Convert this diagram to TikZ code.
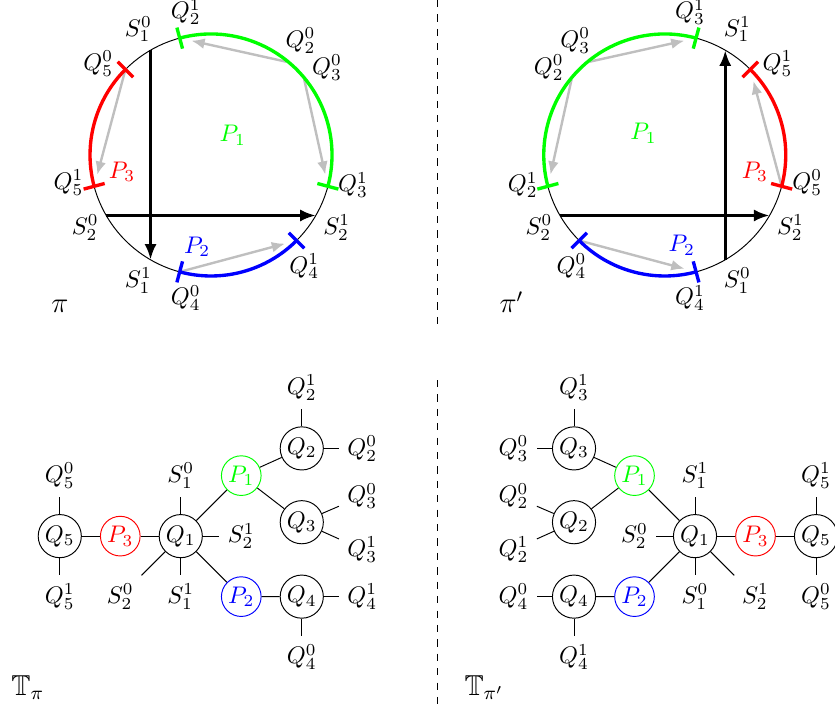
\documentclass[tikz,border=0pt]{standalone}
\usepackage{amsmath,amssymb}
\usepackage{xcolor}
\usepackage{tikz}
\usetikzlibrary{arrows.meta,positioning,calc}

\begin{document}
\begin{tikzpicture}[x=25.2pt, y=25.2pt,
  seg/.style={line width=1.4pt},
  move/.style={line width=1pt, gray!50, -{Latex[length=5.5pt,width=4.5pt]}, shorten >=5pt, shorten <=1pt},
  axis/.style={line width=1.25pt, -{Latex[length=6.5pt,width=5pt]}},
  vtx/.style={circle, draw, inner sep=1pt},
  tag/.style={anchor=base west, font=\large},
]
\useasboundingbox (-3.488,-9.19) rectangle (10.314,2.562);
\draw[dashed] (3.75,2.562) -- (3.75,-2.83);
\draw[dashed] (3.75,-3.72) -- (3.75,-9.19);

\draw (0,0) circle[radius=2];
\coordinate (s10) at (120:2);
\coordinate (s11) at (240:2);
\coordinate (s20) at (210:2);
\coordinate (s21) at (-30:2);
\coordinate (q20) at (50:2);
\coordinate (q21) at (105:2);
\coordinate (q30) at (40:2);
\coordinate (q31) at (-15:2);
\coordinate (q50) at (135:2);
\coordinate (q51) at (195:2);
\coordinate (q40) at (255:2);
\coordinate (q41) at (315:2);
\draw[move] (q20) -- (q21);
\draw[move] (q30) -- (q31);
\draw[move] (q50) -- (q51);
\draw[move] (q40) -- (q41);
\draw[seg, green] (q21) arc[start angle=105, end angle=-15, radius=2];
\draw[seg, red] (q50) arc[start angle=135, end angle=195, radius=2];
\draw[seg, blue] (q40) arc[start angle=255, end angle=315, radius=2];
\foreach \a/\c in {105/green,-15/green,135/red,195/red,255/blue,315/blue}
  \draw[seg, \c] (\a:1.82) -- (\a:2.18);
\draw[axis] (s10) -- (s11);
\draw[axis] (s20) -- (s21);
\node (ls10) at (120:2.4) {$S_1^0$};
\node (ls11) at (240:2.4) {$S_1^1$};
\node (ls20) at (210:2.4) {$S_2^0$};
\node (ls21) at (-30:2.4) {$S_2^1$};
\node (lq21) at (100:2.4) {$Q_2^1$};
\node (lq20) at (52:2.4) {$Q_2^0$};
\node (lq30) at (37:2.4) {$Q_3^0$};
\node (lq31) at (-12:2.4) {$Q_3^1$};
\node (lq50) at (141:2.4) {$Q_5^0$};
\node (lq51) at (191:2.4) {$Q_5^1$};
\node (lq40) at (260:2.4) {$Q_4^0$};
\node (lq41) at (310:2.4) {$Q_4^1$};
\node[green] (lp1) at (0.36,0.33) {$P_1$};
\node[red] (lp3) at (-1.47,-0.28) {$P_3$};
\node[blue] (lp2) at (-0.23,-1.52) {$P_2$};
\node[tag] (pi) at (-2.78,-2.61) {$\pi$};

\begin{scope}[shift={(7.5,0)}]
\draw (0,0) circle[radius=2];
\coordinate (rs10) at (300:2);
\coordinate (rs11) at (60:2);
\coordinate (rs20) at (210:2);
\coordinate (rs21) at (-30:2);
\coordinate (rq30) at (130:2);
\coordinate (rq31) at (75:2);
\coordinate (rq20) at (140:2);
\coordinate (rq21) at (195:2);
\coordinate (rq50) at (-15:2);
\coordinate (rq51) at (45:2);
\coordinate (rq40) at (225:2);
\coordinate (rq41) at (285:2);
\draw[move] (rq30) -- (rq31);
\draw[move] (rq20) -- (rq21);
\draw[move] (rq50) -- (rq51);
\draw[move] (rq40) -- (rq41);
\draw[seg, green] (rq31) arc[start angle=75, end angle=195, radius=2];
\draw[seg, red] (rq50) arc[start angle=-15, end angle=45, radius=2];
\draw[seg, blue] (rq40) arc[start angle=225, end angle=285, radius=2];
\foreach \a/\c in {75/green,195/green,-15/red,45/red,225/blue,285/blue}
  \draw[seg, \c] (\a:1.82) -- (\a:2.18);
\draw[axis] (rs10) -- (rs11);
\draw[axis] (rs20) -- (rs21);
\node (rls11) at (60:2.4) {$S_1^1$};
\node (rls10) at (300:2.4) {$S_1^0$};
\node (rls20) at (210:2.4) {$S_2^0$};
\node (rls21) at (-30:2.4) {$S_2^1$};
\node (rlq31) at (80:2.4) {$Q_3^1$};
\node (rlq30) at (128:2.4) {$Q_3^0$};
\node (rlq20) at (143:2.4) {$Q_2^0$};
\node (rlq21) at (192:2.4) {$Q_2^1$};
\node (rlq51) at (39:2.4) {$Q_5^1$};
\node (rlq50) at (-11:2.4) {$Q_5^0$};
\node (rlq40) at (230:2.4) {$Q_4^0$};
\node (rlq41) at (280:2.4) {$Q_4^1$};
\node[green] (rlp1) at (-0.35,0.36) {$P_1$};
\node[red] (rlp3) at (1.49,-0.28) {$P_3$};
\node[blue] (rlp2) at (0.28,-1.49) {$P_2$};
\node[tag] (pip) at (-2.87,-2.61) {$\pi'$};
\end{scope}

\begin{scope}[shift={(-0.5,-6.3)}]
\node[vtx] (tq1) at (0,0) {$Q_1$};
\node[vtx, red] (tp3) at (-1,0) {$P_3$};
\node[vtx] (tq5) at (-2,0) {$Q_5$};
\node[vtx, green] (tp1) at (1,1) {$P_1$};
\node[vtx] (tq2) at (2,1.45) {$Q_2$};
\node[vtx] (tq3) at (2,0.23) {$Q_3$};
\node[vtx, blue] (tp2) at (1,-1) {$P_2$};
\node[vtx] (tq4) at (2,-1) {$Q_4$};
\node (tq50) at (-2,1) {$Q_5^0$};
\node (tq51) at (-2,-1) {$Q_5^1$};
\node (ts10) at (0,1) {$S_1^0$};
\node (ts11) at (0,-1) {$S_1^1$};
\node (ts20) at (-1,-1) {$S_2^0$};
\node (ts21) at (1,0) {$S_2^1$};
\node (tq21) at (2,2.45) {$Q_2^1$};
\node (tq20) at (3,1.45) {$Q_2^0$};
\node (tq30) at (3,0.66) {$Q_3^0$};
\node (tq31) at (3,-0.22) {$Q_3^1$};
\node (tq41) at (3,-1) {$Q_4^1$};
\node (tq40) at (2,-2) {$Q_4^0$};
\draw (tq5) -- (tp3) -- (tq1);
\draw (tq1) -- (tp1) -- (tq2);
\draw (tp1) -- (tq3);
\draw (tq1) -- (tp2) -- (tq4);
\draw (tq5) -- (tq50);
\draw (tq5) -- (tq51);
\draw (tq1) -- (ts10);
\draw (tq1) -- (ts11);
\draw (tq1) -- (ts20);
\draw (tq1) -- (ts21);
\draw (tq2) -- (tq21);
\draw (tq2) -- (tq20);
\draw (tq3) -- (tq30);
\draw (tq3) -- (tq31);
\draw (tq4) -- (tq41);
\draw (tq4) -- (tq40);
\end{scope}
\node[tag] (tpi) at (-3.44,-8.93) {$\mathbb{T}_\pi$};

\begin{scope}[shift={(8,-6.3)}]
\node[vtx] (uq1) at (0,0) {$Q_1$};
\node[vtx, red] (up3) at (1,0) {$P_3$};
\node[vtx] (uq5) at (2,0) {$Q_5$};
\node[vtx, green] (up1) at (-1,1) {$P_1$};
\node[vtx] (uq3) at (-2,1.45) {$Q_3$};
\node[vtx] (uq2) at (-2,0.23) {$Q_2$};
\node[vtx, blue] (up2) at (-1,-1) {$P_2$};
\node[vtx] (uq4) at (-2,-1) {$Q_4$};
\node (uq51) at (2,1) {$Q_5^1$};
\node (uq50) at (2,-1) {$Q_5^0$};
\node (us11) at (0,1) {$S_1^1$};
\node (us10) at (0,-1) {$S_1^0$};
\node (us20) at (-1,0) {$S_2^0$};
\node (us21) at (1,-1) {$S_2^1$};
\node (uq31) at (-2,2.45) {$Q_3^1$};
\node (uq30) at (-3,1.45) {$Q_3^0$};
\node (uq20) at (-3,0.66) {$Q_2^0$};
\node (uq21) at (-3,-0.22) {$Q_2^1$};
\node (uq40) at (-3,-1) {$Q_4^0$};
\node (uq41) at (-2,-2) {$Q_4^1$};
\draw (uq5) -- (up3) -- (uq1);
\draw (uq1) -- (up1) -- (uq3);
\draw (up1) -- (uq2);
\draw (uq1) -- (up2) -- (uq4);
\draw (uq5) -- (uq51);
\draw (uq5) -- (uq50);
\draw (uq1) -- (us11);
\draw (uq1) -- (us10);
\draw (uq1) -- (us20);
\draw (uq1) -- (us21);
\draw (uq3) -- (uq31);
\draw (uq3) -- (uq30);
\draw (uq2) -- (uq20);
\draw (uq2) -- (uq21);
\draw (uq4) -- (uq40);
\draw (uq4) -- (uq41);
\end{scope}
\node[tag] (tpip) at (4.05,-8.93) {$\mathbb{T}_{\pi'}$};
\end{tikzpicture}
\end{document}
